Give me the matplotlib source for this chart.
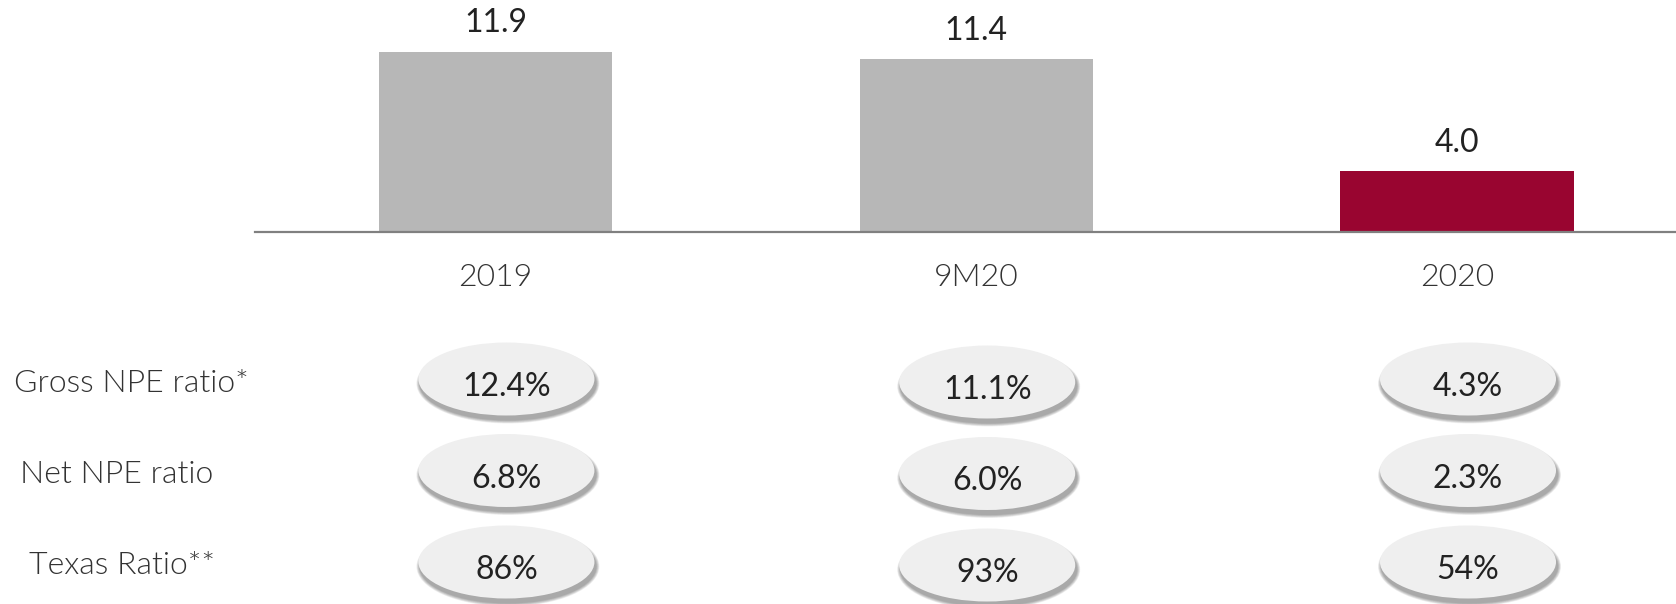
import matplotlib
matplotlib.use("Agg")
import matplotlib.pyplot as plt
from matplotlib.patches import Ellipse
from matplotlib.transforms import blended_transform_factory

plt.rcParams['font.family'] = ['Lato', 'DejaVu Sans']

# ---- data ----
categories = ["2019", "9M20", "2020"]
npe_values = [11.9, 11.4, 4.0]
bar_colors = ["#b7b7b7", "#b7b7b7", "#990530"]
row_labels = ["Gross NPE ratio*", "Net NPE ratio", "Texas Ratio**"]
gross_npe = ["12.4%", "11.1%", "4.3%"]
net_npe = ["6.8%", "6.0%", "2.3%"]
texas_ratio = ["86%", "93%", "54%"]
table_rows = [gross_npe, net_npe, texas_ratio]

W, H = 1676, 604
DPI = 100
FS = 23
fig = plt.figure(figsize=(W / DPI, H / DPI), dpi=DPI)

# ---- bar axes ----
x_left_px, x_right_px = 255, 1676
base_px = 232
ax = fig.add_axes([x_left_px / W, (H - base_px) / H, (x_right_px - x_left_px) / W, base_px / H])
xs = list(range(len(categories)))
ax.bar(xs, npe_values, width=0.485, color=bar_colors, zorder=2)
ax.set_xlim(-0.5, 2.4555)
ax.set_ylim(0, 15.33)
for s in ["top", "right", "left"]:
    ax.spines[s].set_visible(False)
ax.spines["bottom"].set_color("#808080")
ax.spines["bottom"].set_linewidth(1.6)
ax.set_yticks([])
ax.set_xticks([])
ax.patch.set_alpha(0)

for x, v in zip(xs, npe_values):
    ax.annotate(f"{v:.1f}", (x, v), xytext=(0, 14), textcoords="offset points",
                ha="center", va="baseline", fontsize=FS, color="#222222")
for x, c in zip(xs, categories):
    ax.annotate(c, (x, 0), xytext=(0, -39), textcoords="offset points",
                ha="center", va="baseline", fontsize=FS, color="#333333",
                fontweight=300)

# ---- table axes (same x scale) ----
top_px = 304
tax = fig.add_axes([x_left_px / W, 0, (x_right_px - x_left_px) / W, (H - top_px) / H])
tax.set_xlim(-0.5, 2.4555)
row_sp = 91.5
row0 = 379
tax.set_ylim((H - row0) / row_sp, (top_px - row0) / row_sp)
tax.axis("off")

ell_w = 176 / 480.75
ell_h = 73 / row_sp
dx = 11 / 480.75
px_x = 1 / 480.75
px_y = 1 / row_sp
for r, row in enumerate(table_rows):
    for c, val in enumerate(row):
        cx = c + dx
        cy = r + (3 * px_y if c == 1 else 0)
        # soft drop shadow
        for k in range(7):
            grow = (7 - k) * 1.0
            tax.add_patch(Ellipse((cx + 1.5 * px_x, cy + 4.5 * px_y),
                                  ell_w + grow * px_x, ell_h + grow * px_y,
                                  facecolor="black", edgecolor="none", alpha=0.055,
                                  zorder=1))
        tax.add_patch(Ellipse((cx, cy), ell_w, ell_h, facecolor="#efefef",
                              edgecolor="none", zorder=2))
        tax.text(cx, cy + 8 * px_y, val, ha="center", va="center", fontsize=FS,
                 color="#222222", zorder=3)

trans = blended_transform_factory(fig.transFigure, tax.transData)
label_x = [131, 117, 122]
for r, lab in enumerate(row_labels):
    fig.text(label_x[r] / W, r + 4 * px_y, lab, transform=trans, ha="center",
             va="center", fontsize=FS, color="#333333", fontweight=300)

fig.savefig("out.png", dpi=DPI)
